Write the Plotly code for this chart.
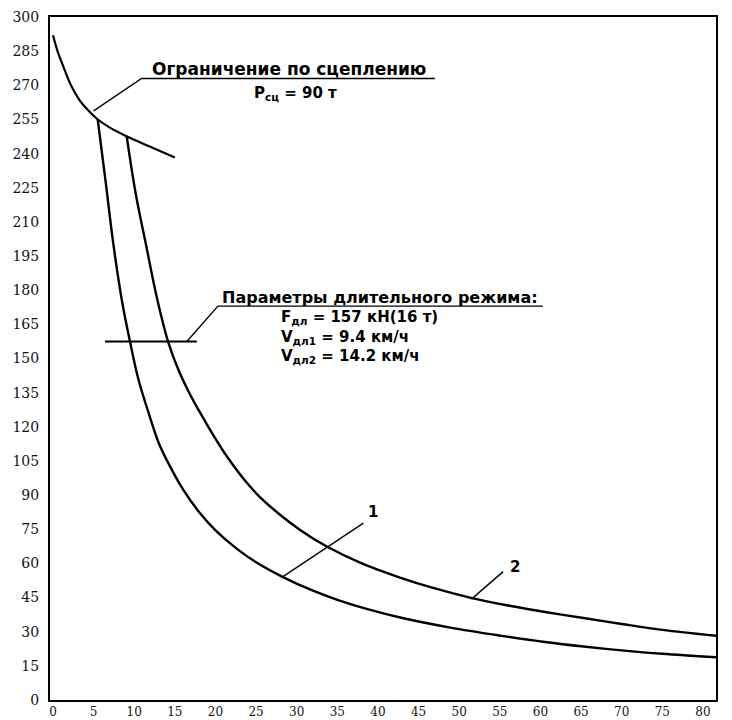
import plotly.graph_objects as go

# ---- data ----
adhesion_v = [0, 0.65, 1.3, 1.9, 2.5, 3.3, 4.35, 5.4, 7.0, 9.07, 11.9, 15.0]
adhesion_f = [292, 284, 278, 272.5, 268, 263.3, 258.9, 255.3, 251.4, 247.6, 243.1, 238.3]

curve1_v = [5.5, 6.5, 7.4, 8.5, 9.5, 10.5, 11.9, 13.0, 14.4, 16.0, 18.1, 20.0, 22.6, 25.0,
            28.3, 32.0, 35.0, 38.6, 43.0, 48.9, 55.0, 60.3, 65.0, 70.0, 75.0, 81.6]
curve1_f = [255, 227, 201, 175, 157, 141, 124.6, 113, 102.6, 92.5, 82, 74.5, 66.5, 60.5,
            54, 48, 44, 40, 36, 31.8, 28.3, 25.6, 23.6, 21.8, 20.3, 18.8]

curve2_v = [9.07, 10.2, 11.5, 12.8, 14.2, 15.5, 16.9, 18.3, 19.7, 21.5, 23.6, 25.5, 27.9,
            30.5, 33.7, 38.0, 42.7, 47.0, 51.3, 56.0, 60.0, 65.3, 70.0, 75.0, 81.6]
curve2_f = [247.6, 222, 199, 176.5, 157, 144.5, 134, 125, 116.5, 106.5, 96.5, 89, 81.5,
            74.5, 67.4, 60, 53.8, 49, 45, 41.5, 39, 36, 33.4, 30.8, 28.2]

x_ticks = list(range(0, 81, 5))
y_ticks = list(range(0, 301, 15))

# leader / underline lines
adh_leader_v = [5.0, 10.9, 47.0]
adh_leader_f = [258.8, 273.0, 273.0]
par_leader_v = [16.5, 20.3, 60.3]
par_leader_f = [157.6, 173.0, 173.0]
long_mode_v = [6.4, 17.7]
long_mode_f = [157.5, 157.5]
lbl1_v = [28.3, 38.2]
lbl1_f = [54.2, 77.7]
lbl2_v = [51.5, 55.4]
lbl2_f = [44.3, 56.4]

title_adh = "Ограничение по сцеплению"
title_adh2 = "P<sub>сц</sub> = 90 т"
title_par = "Параметры длительного режима:"
par_lines = ["F<sub>дл</sub> = 157 кН(16 т)", "V<sub>дл1</sub> = 9.4 км/ч", "V<sub>дл2</sub> = 14.2 км/ч"]

fig = go.Figure()
curve_style = dict(color="black", width=2.4)
fig.add_trace(go.Scatter(x=adhesion_v, y=adhesion_f, mode="lines",
                         line=dict(color="black", width=2.2, shape="spline")))
fig.add_trace(go.Scatter(x=curve1_v, y=curve1_f, mode="lines", line=dict(curve_style, shape="spline")))
fig.add_trace(go.Scatter(x=curve2_v, y=curve2_f, mode="lines", line=dict(curve_style, shape="spline")))

thin = dict(color="black", width=1.4)
for xs, ys in [(adh_leader_v, adh_leader_f), (par_leader_v, par_leader_f), (lbl1_v, lbl1_f), (lbl2_v, lbl2_f)]:
    fig.add_trace(go.Scatter(x=xs, y=ys, mode="lines", line=thin))
fig.add_trace(go.Scatter(x=long_mode_v, y=long_mode_f, mode="lines", line=dict(color="black", width=2)))

bold_font = dict(family="DejaVu Sans", size=15, color="black")
fig.add_annotation(x=29.0, y=272.2, text="<b>" + title_adh + "</b>", showarrow=False,
                   xanchor="center", yanchor="bottom", font=dict(bold_font, size=17), borderpad=0)
fig.add_annotation(x=29.8, y=266.5, text="<b>" + title_adh2 + "</b>", showarrow=False,
                   xanchor="center", yanchor="middle", font=bold_font)
fig.add_annotation(x=40.2, y=172.2, text="<b>" + title_par + "</b>", showarrow=False,
                   xanchor="center", yanchor="bottom", font=dict(bold_font, size=16), borderpad=0)
fig.add_annotation(x=27.9, y=172.6, text="<b>" + "<br>".join(par_lines) + "</b>", showarrow=False,
                   xanchor="left", yanchor="top", align="left", font=bold_font, borderpad=0)
fig.add_annotation(x=39.4, y=82.7, text="<b>1</b>", showarrow=False, font=bold_font)
fig.add_annotation(x=56.9, y=58.6, text="<b>2</b>", showarrow=False, font=bold_font)

tick_font = dict(family="DejaVu Serif", size=14, color="#111")
fig.update_layout(
    width=732, height=720,
    margin=dict(l=50, r=16, t=17, b=20),
    paper_bgcolor="white", plot_bgcolor="white",
    showlegend=False,
)
fig.update_xaxes(range=[-0.37, 81.6], tickvals=x_ticks, ticktext=[str(v) for v in x_ticks],
                 showgrid=False, zeroline=False, showline=True, mirror=True, automargin=False,
                 linecolor="black", linewidth=1.5, tickfont=dict(tick_font, size=12), ticks="",
                 ticklabelstandoff=0)
fig.update_yaxes(range=[0, 300], tickvals=y_ticks, ticktext=[str(v) for v in y_ticks],
                 showgrid=False, zeroline=False, showline=True, mirror=True, automargin=False,
                 linecolor="black", linewidth=2, tickfont=tick_font, ticks="", ticklabelstandoff=6)

fig.write_html("out.html")
